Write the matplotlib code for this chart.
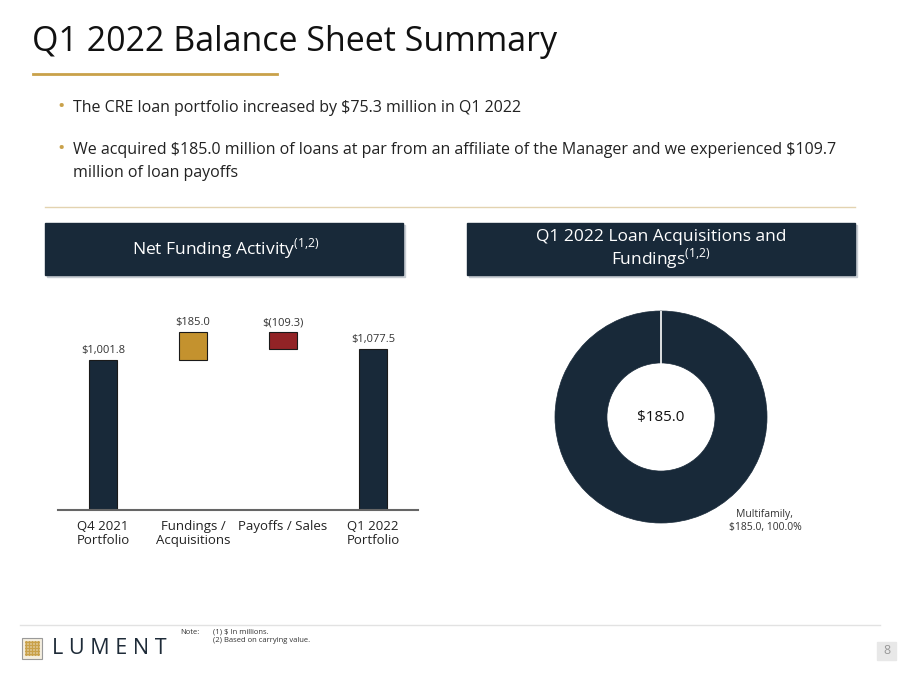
import matplotlib
matplotlib.use("Agg")
import matplotlib.pyplot as plt
from matplotlib.patches import Rectangle

plt.rcParams['font.family'] = ['Open Sans', 'DejaVu Sans']

# waterfall data ($ millions)
categories = ["Q4 2021\nPortfolio", "Fundings /\nAcquisitions", "Payoffs / Sales", "Q1 2022\nPortfolio"]
start_value = 1001.8
changes = [185.0, -109.3]
end_value = 1077.5
bar_labels = ["$1,001.8", "$185.0", "$(109.3)", "$1,077.5"]

# donut data
donut_labels = ["Multifamily"]
donut_values = [185.0]
donut_total = "$185.0"

navy = "#182939"
gold = "#C4922E"
red = "#922326"
line_gold = "#C9A14A"

fig = plt.figure(figsize=(9, 6.75), dpi=100)

# overlay axes in pixel coordinates for slide decorations
bg = fig.add_axes([0, 0, 1, 1])
bg.set_xlim(0, 900)
bg.set_ylim(675, 0)
bg.axis("off")

bg.text(32, 42, "Q1 2022 Balance Sheet Summary", fontsize=24.5, color="#111111", va="center")
bg.plot([33, 277], [74, 74], color=line_gold, lw=2)

bullets = [
    (106, "The CRE loan portfolio increased by \\$75.3 million in Q1 2022"),
    (148, "We acquired \\$185.0 million of loans at par from an affiliate of the Manager and we experienced \\$109.7\nmillion of loan payoffs"),
]
for y, txt in bullets:
    bg.text(57, y + 1, "\u2022", fontsize=14, color=line_gold, va="center")
    bg.text(73, y - 6, txt, fontsize=11.5, color="#222222", va="top", linespacing=1.55)

bg.plot([45, 855], [207, 207], color="#E3D3B0", lw=1)

# header boxes
for x0, x1 in [(45, 403), (467, 855)]:
    bg.add_patch(Rectangle((x0 + 2, 225), x1 - x0, 52, color="#C8CDD3", zorder=1))
    bg.add_patch(Rectangle((x0, 223), x1 - x0, 52, color=navy, zorder=2))
sup = r"$^{\mathregular{(1{,}2)}}$"
bg.text(226, 249, "Net Funding Activity" + sup, fontsize=12.5, color="white",
        ha="center", va="center", zorder=3)
bg.text(661, 250, "Q1 2022 Loan Acquisitions and\nFundings" + sup, fontsize=12.5,
        color="white", ha="center", va="center", zorder=3, linespacing=1.1)

# footer
bg.plot([20, 880], [625, 625], color="#E2E2E2", lw=1)
bg.add_patch(Rectangle((22, 638), 20, 21, facecolor="#F4EEDF", edgecolor="#9A9A9A", lw=0.8))
for i in range(5):
    for j in range(5):
        bg.scatter(26 + i * 3, 642 + j * 3, s=1.5, color="#C9A14A", zorder=3)
bg.text(52, 649, "L U M E N T", fontsize=15.5, color="#1E2B38", va="center")
bg.text(180, 632, "Note:", fontsize=5.5, color="#333333", va="center")
bg.text(213, 632, "(1) \\$ In millions.", fontsize=5.5, color="#333333", va="center")
bg.text(213, 641, "(2) Based on carrying value.", fontsize=5.5, color="#333333", va="center")
bg.add_patch(Rectangle((877, 642), 19, 18, color="#E8E8E8"))
bg.text(886.5, 651, "8", fontsize=9, color="#999999", ha="center", va="center")

# waterfall chart
ax = fig.add_axes([58 / 900, (675 - 510) / 675, 360 / 900, 210 / 675])
x = range(len(categories))
heights = [start_value]
bottoms = [0]
running = start_value
for c in changes:
    if c >= 0:
        bottoms.append(running)
        heights.append(c)
    else:
        bottoms.append(running + c)
        heights.append(-c)
    running += c
heights.append(end_value)
bottoms.append(0)
colors = [navy, gold, red, navy]
ax.bar(x, heights, bottom=bottoms, width=0.31, color=colors, edgecolor="#1a1a1a", linewidth=0.8)
tops = [b + h for b, h in zip(bottoms, heights)]
for xi, top, lab in zip(x, tops, bar_labels):
    ax.text(xi, top + 25, lab, ha="center", va="bottom", fontsize=8, color="#333333")
ax.set_xlim(-0.5, 3.5)
ax.set_ylim(0, 1402)
ax.set_xticks(list(x))
ax.set_xticklabels(categories, fontsize=9.5, color="#222222", linespacing=1.15)
ax.tick_params(axis="x", length=0, pad=7)
ax.set_yticks([])
for s in ["top", "right", "left"]:
    ax.spines[s].set_visible(False)
ax.spines["bottom"].set_color("#666666")
ax.spines["bottom"].set_linewidth(1.5)
ax.patch.set_alpha(0)

# donut chart
pax = fig.add_axes([(661 - 106) / 900, (675 - 417 - 106) / 675, 212 / 900, 212 / 675])
pax.pie(donut_values, colors=[navy], startangle=90, counterclock=False,
        wedgeprops=dict(width=0.49, edgecolor=navy, linewidth=0.5))
pax.plot([0, 0], [0.5, 1.0], color="white", lw=1.2)
pax.set_xlim(-1, 1)
pax.set_ylim(-1, 1)
pax.text(0, 0, donut_total, ha="center", va="center", fontsize=11, color="#111111")
pax.text(0.98, -0.98, f"{donut_labels[0]},\n${donut_values[0]:.1f}, 100.0%", ha="center",
         va="center", fontsize=7.5, color="#333333", linespacing=1.3)

fig.savefig("out.png", dpi=100)
